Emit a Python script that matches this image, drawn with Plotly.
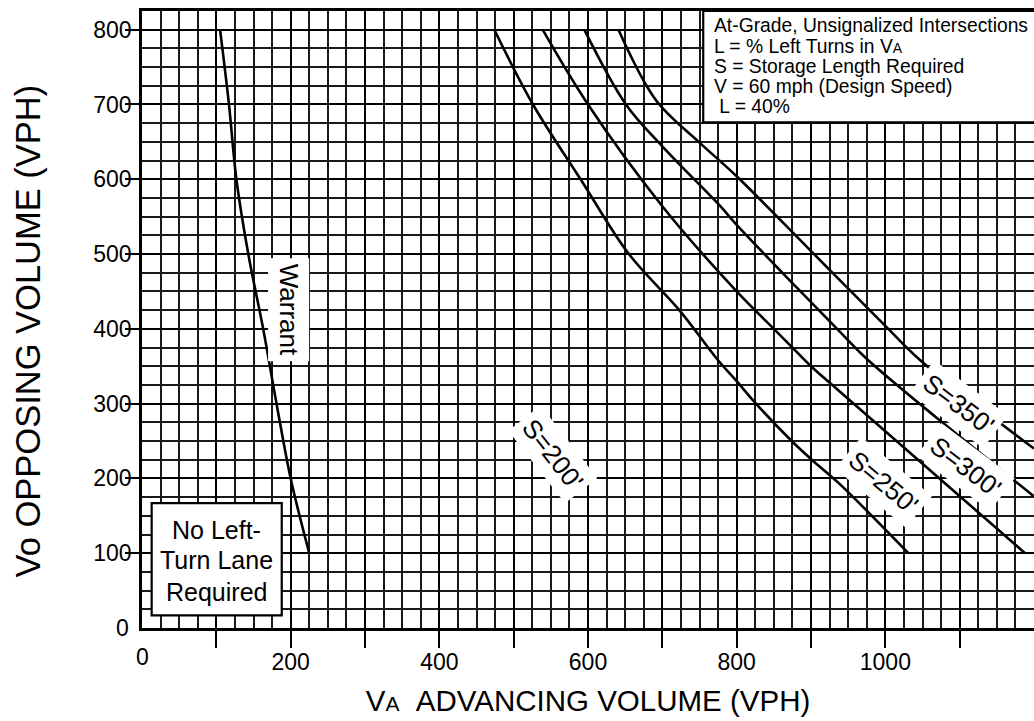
import plotly.graph_objects as go

# ---- data ----
warrant_x = [105, 117, 127, 143, 163, 181, 200, 225]
warrant_y = [800, 700, 600, 500, 400, 300, 200, 100]

s200_x = [474, 526, 590, 655, 722, 775, 800, 825, 874, 901, 937, 1031]
s200_y = [800, 700, 600, 500, 426, 358, 330, 301, 250, 225, 194, 100]

s250_x = [539, 600, 700, 800, 850, 875, 900, 939, 1188]
s250_y = [800, 700, 564, 450, 400, 375, 350, 316, 100]

s300_x = [595, 651, 700, 778, 800, 881, 939, 977, 1200]
s300_y = [800, 700, 644, 564, 539, 455, 396, 358, 176]

s350_x = [641, 692, 749, 800, 900, 1000, 1047, 1200]
s350_y = [800, 705, 650, 604, 504, 404, 358, 240]

x_tickvals = [100, 200, 300, 400, 500, 600, 700, 800, 900, 1000, 1100]
x_ticktext = ["", "200", "", "400", "", "600", "", "800", "", "1000", ""]
y_tickvals = [100, 200, 300, 400, 500, 600, 700, 800]
y_ticktext = ["100", "200", "300", "400", "500", "600", "700", "800"]

FONT = "Liberation Sans, Arial, sans-serif"

fig = go.Figure()
for xs, ys in [(warrant_x, warrant_y), (s200_x, s200_y), (s250_x, s250_y),
               (s300_x, s300_y), (s350_x, s350_y)]:
    fig.add_trace(go.Scatter(x=xs, y=ys, mode="lines", line=dict(color="black", width=2.6),
                             line_shape="spline", showlegend=False, hoverinfo="skip"))

fig.update_layout(
    width=1034, height=721,
    margin=dict(l=142, r=0, t=11, b=93),
    paper_bgcolor="white", plot_bgcolor="white",
    font=dict(family=FONT, color="black"),
    showlegend=False,
)

fig.update_xaxes(
    range=[0, 1200], tickvals=x_tickvals, ticktext=x_ticktext,
    ticks="outside", ticklen=17, tickwidth=2.2, tickcolor="black",
    tickfont=dict(size=23, family=FONT, color="black"), ticklabelstandoff=-5,
    showgrid=True, gridcolor="black", gridwidth=2.2,
    minor=dict(dtick=25, tick0=0, showgrid=True, gridcolor="#1a1a1a", gridwidth=1.6, ticks=""),
    showline=True, linecolor="black", linewidth=2.6, mirror=True, zeroline=False,
    title=dict(text="V<span style='font-size:21px'>A</span>\u00a0\u00a0ADVANCING VOLUME (VPH)",
               font=dict(size=29.5, family=FONT, color="black"), standoff=16),
)
fig.update_yaxes(
    range=[0, 825], tickvals=y_tickvals, ticktext=y_ticktext,
    ticks="outside", ticklen=14, tickwidth=2.2, tickcolor="black",
    tickfont=dict(size=23, family=FONT, color="black"), ticklabelstandoff=-11,
    showgrid=True, gridcolor="black", gridwidth=2.2,
    minor=dict(dtick=25, tick0=0, showgrid=True, gridcolor="#1a1a1a", gridwidth=1.6, ticks=""),
    showline=True, linecolor="black", linewidth=2.6, zeroline=False,
)

# y axis title
fig.add_annotation(x=-0.128, y=0.482, xref="paper", yref="paper", text="Vo OPPOSING VOLUME (VPH)",
                   showarrow=False, textangle=-90, xanchor="center", yanchor="middle",
                   font=dict(size=34.5, family=FONT, color="black"))

# info box (top right) and "No Left-Turn Lane Required" box
fig.add_shape(type="rect", xref="x", yref="y", x0=755, x1=1215, y0=676, y1=825,
              fillcolor="white", line=dict(color="black", width=2.2), layer="above")
fig.add_shape(type="rect", xref="x", yref="y", x0=13, x1=188, y0=17, y1=167,
              fillcolor="white", line=dict(color="black", width=2.2), layer="above")

info_lines = [
    ("At-Grade, Unsignalized Intersections", 805),
    ("L = % Left Turns in V<span style='font-size:14px'>A</span>", 778),
    ("S = Storage Length Required", 751),
    ("V = 60 mph (Design Speed)", 724),
    ("\u00a0L = 40%", 697),
]
for txt, yy in info_lines:
    fig.add_annotation(x=767, y=yy, xref="x", yref="y", text=txt, showarrow=False,
                       xanchor="left", yanchor="middle", font=dict(size=19.3, family=FONT, color="black"))

for txt, yy in [("No Left-", 131), ("Turn Lane", 91), ("Required", 48)]:
    fig.add_annotation(x=100, y=yy, xref="x", yref="y", text=txt, showarrow=False,
                       xanchor="center", yanchor="middle", font=dict(size=25, family=FONT, color="black"))

# curve labels
labels = [
    ("Warrant", 197, 425, 90),
    ("S=200'", 552, 232, 52),
    ("S=250'", 997, 195, 40),
    ("S=300'", 1108, 215, 37),
    ("S=350'", 1098, 299, 37),
]
for txt, xx, yy, ang in labels:
    fig.add_annotation(x=xx, y=yy, xref="x", yref="y", text=txt, showarrow=False,
                       textangle=ang, bgcolor="white", borderpad=5,
                       font=dict(size=26, family=FONT, color="black"))

# zero labels (outside the axis ranges, so placed in paper coordinates)
fig.add_annotation(x=-0.0224, y=0, xref="paper", yref="y", text="0", showarrow=False,
                   xanchor="center", yanchor="middle",
                   font=dict(size=23, family=FONT, color="black"))
fig.add_annotation(x=0.001, y=-0.047, xref="paper", yref="paper", text="0", showarrow=False,
                   xanchor="center", yanchor="middle",
                   font=dict(size=23, family=FONT, color="black"))

fig.write_html("out.html", config={"displayModeBar": False},
               post_script="document.body.style.margin='0';")
